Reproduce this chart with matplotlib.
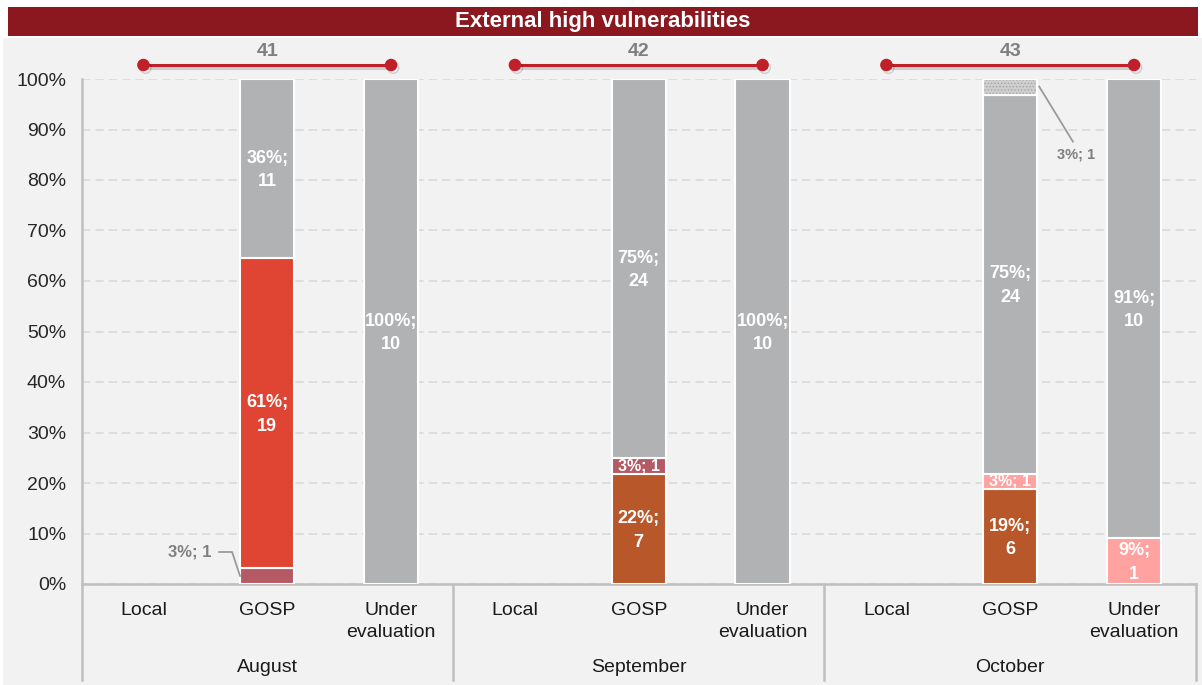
import numpy as np
import matplotlib
matplotlib.use('Agg')
import matplotlib.pyplot as plt
import matplotlib.patheffects as pe
from matplotlib.patches import Rectangle

plt.rcParams['font.family'] = ['Liberation Sans', 'DejaVu Sans']
plt.rcParams['hatch.linewidth'] = 0.6

# ---- data ----
months = ['August', 'September', 'October']
categories = ['Local', 'GOSP', 'Under\nevaluation']
month_totals = ['41', '42', '43']

# one entry per bar position: (month x category) -> 9 slots
s_brown = [0, 0, 0, 0, 7, 0, 0, 6, 0]
s_mauve = [0, 1, 0, 0, 1, 0, 0, 0, 0]
s_red = [0, 19, 0, 0, 0, 0, 0, 0, 0]
s_pink = [0, 0, 0, 0, 0, 0, 0, 1, 1]
s_gray = [0, 11, 10, 0, 24, 10, 0, 24, 10]
s_dotted = [0, 0, 0, 0, 0, 0, 0, 1, 0]

# percentages as printed on the chart
p_brown = [0, 0, 0, 0, 22, 0, 0, 19, 0]
p_mauve = [0, 3, 0, 0, 3, 0, 0, 0, 0]
p_red = [0, 61, 0, 0, 0, 0, 0, 0, 0]
p_pink = [0, 0, 0, 0, 0, 0, 0, 3, 9]
p_gray = [0, 36, 100, 0, 75, 100, 0, 75, 91]
p_dotted = [0, 0, 0, 0, 0, 0, 0, 3, 0]

series = [
    ('brown', s_brown, p_brown, '#B8572A'),
    ('mauve', s_mauve, p_mauve, '#B55A64'),
    ('red', s_red, p_red, '#E04433'),
    ('pink', s_pink, p_pink, '#FFA2A0'),
    ('gray', s_gray, p_gray, '#B1B2B4'),
    ('dotted', s_dotted, p_dotted, '#CFCFCF'),
]

W, H = 1202, 685
fig = plt.figure(figsize=(W / 100, H / 100), dpi=100)
fig.patch.set_facecolor('white')

# background panel and title bar
fig.patches.append(Rectangle((3 / W, 0), 1, 1 - 38 / H, transform=fig.transFigure,
                             facecolor='#F2F2F2', edgecolor='none', zorder=-10))
fig.patches.append(Rectangle((8 / W, 1 - 36 / H), 1190 / W, 29 / H, transform=fig.transFigure,
                             facecolor='#8C181F', edgecolor='none', zorder=-9))
fig.text(603 / W, 1 - 21.5 / H, 'External high vulnerabilities', color='white',
         fontsize=16, fontweight='bold', ha='center', va='center')

left, right, top, bottom = 81.5, 1196, 79, 584
ax = fig.add_axes([left / W, 1 - bottom / H, (right - left) / W, (bottom - top) / H])
ax.set_facecolor('none')

x = np.arange(len(months) * len(categories))
totals = np.array(s_brown) + np.array(s_mauve) + np.array(s_red) + \
    np.array(s_pink) + np.array(s_gray) + np.array(s_dotted)
safe = np.where(totals == 0, 1, totals)

bw = 0.44
base = np.zeros(len(x))
outside = {('mauve', 1), ('dotted', 7)}
for name, counts, pcts, col in series:
    counts = np.array(counts, dtype=float)
    h = counts / safe
    nz = counts > 0
    if name == 'dotted':
        ax.bar(x[nz], h[nz], bw, bottom=base[nz], color=col, edgecolor='#A3A3A3',
               hatch='.....', linewidth=0, zorder=3)
        ax.bar(x[nz], h[nz], bw, bottom=base[nz], color='none', edgecolor='white',
               linewidth=1.5, zorder=4)
    else:
        ax.bar(x[nz], h[nz], bw, bottom=base[nz], color=col, edgecolor='white',
               linewidth=1.5, zorder=3)
    for i in x[nz]:
        if (name, i) in outside:
            continue
        yc = base[i] + h[i] / 2
        if h[i] < 0.05:
            txt = '%d%%; %d' % (pcts[i], counts[i])
            ax.text(i, yc, txt, color='white', fontsize=11.5, fontweight='bold',
                    ha='center', va='center', zorder=5)
        else:
            txt = '%d%%;\n%d' % (pcts[i], counts[i])
            ax.text(i, yc - 0.003, txt, color='white', fontsize=13, fontweight='bold',
                    ha='center', va='center', zorder=5, linespacing=1.5)
    base += h

# leader-line labels for the small slices
ax.plot([0.611, 0.716, 0.78], [0.0634, 0.0634, 0.016], color='#9A9A9A', lw=1.3,
        zorder=5, clip_on=False)
ax.text(0.546, 0.0634, '3%; 1', color='#7F7F7F', fontsize=12, fontweight='bold',
        ha='right', va='center')
ax.plot([7.234, 7.506], [0.985, 0.876], color='#9A9A9A', lw=1.3, zorder=5)
ax.text(7.53, 0.851, '3%; 1', color='#7F7F7F', fontsize=10.5, fontweight='bold',
        ha='center', va='center')

# axes styling
ax.set_xlim(-0.5, len(x) - 0.5)
ax.set_ylim(0, 1)
ax.set_yticks(np.arange(0, 1.01, 0.1))
ax.set_yticklabels(['%d%%' % v for v in range(0, 101, 10)], fontsize=14, color='#262626')
ax.tick_params(axis='y', length=0, pad=11)
ax.set_xticks([])
ax.yaxis.grid(True, color='#D9D9D9', linestyle=(0, (5, 3)), lw=1.2, zorder=0)
ax.set_axisbelow(True)
for s in ['top', 'right', 'left']:
    ax.spines[s].set_visible(False)
ax.spines['bottom'].set_color('#BFBFBF')
ax.spines['bottom'].set_linewidth(1.8)

# two-level category axis
depth = -(680 - bottom) / (bottom - top)
ax.plot([-0.5, -0.5], [1, depth], color='#BFBFBF', lw=1.8, clip_on=False, zorder=2)
for k in range(1, len(months) + 1):
    xs = k * len(categories) - 0.5
    ax.plot([xs, xs], [0, depth], color='#BFBFBF', lw=1.8, clip_on=False, zorder=2)

for m, month in enumerate(months):
    for c, cat in enumerate(categories):
        ax.text(m * len(categories) + c, -0.036, cat, fontsize=14, color='#1A1A1A',
                ha='center', va='top', linespacing=1.4)
    ax.text(m * len(categories) + 1, -0.166, month, fontsize=14, color='#1A1A1A',
            ha='center', va='center')

    # bracket with the monthly total
    x0, x1 = m * len(categories), m * len(categories) + 2
    ax.plot([x0, x1], [1.0277, 1.0277], color='#C0202A', lw=2.2, marker='o', ms=8,
            clip_on=False, zorder=6,
            path_effects=[pe.SimpleLineShadow(offset=(1.5, -2), alpha=0.15), pe.Normal()])
    ax.text(m * len(categories) + 1, 1.054, month_totals[m], color='#7F7F7F',
            fontsize=14, fontweight='bold', ha='center', va='center')

fig.savefig('out.png', dpi=100, facecolor=fig.get_facecolor())
